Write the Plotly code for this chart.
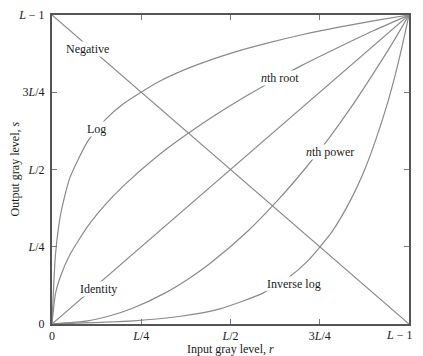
import plotly.graph_objects as go

# sample input levels (fraction of L-1)
r_vals = [0, 0.01, 0.025, 0.05, 0.1, 0.15, 0.2, 0.3, 0.4, 0.5, 0.6, 0.7, 0.8, 0.9, 1.0]
log_vals = [0, 0.228, 0.360, 0.473, 0.591, 0.662, 0.713, 0.785, 0.836, 0.876, 0.908, 0.936, 0.960, 0.981, 1.0]
root_vals = [0, 0.100, 0.158, 0.224, 0.316, 0.387, 0.447, 0.548, 0.632, 0.707, 0.775, 0.837, 0.894, 0.949, 1.0]
line_r = [0, 1.0]
identity_vals = [0, 1.0]
negative_vals = [1.0, 0]

tick_vals = [0, 0.25, 0.5, 0.75, 1.0]
x_tick_text = ["0", "<i>L</i>/4", "<i>L</i>/2", "3<i>L</i>/4", ""]
x_last_tick = "<i>L</i> − 1"
y_tick_text = ["0", "<i>L</i>/4", "<i>L</i>/2", "3<i>L</i>/4", "<i>L</i> − 1"]

curve_labels = ["Negative", "Log", "<i>n</i>th root", "Identity", "<i>n</i>th power", "Inverse log"]
label_x = [0.10, 0.126, 0.64, 0.13, 0.78, 0.677]
label_y = [0.89, 0.63, 0.796, 0.114, 0.557, 0.13]

x_title = "Input gray level, <i>r</i>"
y_title = "Output gray level, <i>s</i>"

FONT = "Liberation Serif"
LINE = "#8a8a8a"
TXT = dict(family=FONT, size=12, color="#1a1a1a")

fig = go.Figure()
series = [
    (line_r, negative_vals),
    (r_vals, log_vals),
    (r_vals, root_vals),
    (line_r, identity_vals),
    (root_vals, r_vals),
    (log_vals, r_vals),
]
for xs, ys in series:
    fig.add_trace(go.Scatter(x=xs, y=ys, mode="lines",
                             line=dict(color=LINE, width=1.2, shape="spline", smoothing=0.6),
                             showlegend=False, hoverinfo="skip", cliponaxis=False))

for t, x, y in zip(curve_labels, label_x, label_y):
    fig.add_annotation(x=x, y=y, text=t, showarrow=False, font=TXT,
                       bgcolor="white", borderpad=0)

# last x tick label, kept inside the page's right edge
fig.add_annotation(xref="x", yref="paper", x=tick_vals[-1], y=0, xanchor="right",
                   yanchor="top", xshift=5, yshift=-2, text=x_last_tick,
                   showarrow=False, font=TXT)

fig.add_annotation(xref="paper", yref="paper", x=0.5, y=0, yanchor="top",
                   yshift=-16, text=x_title, showarrow=False, font=TXT)
fig.add_annotation(xref="paper", yref="paper", x=0, y=0.5, xanchor="right",
                   xshift=-29, textangle=-90, text=y_title, showarrow=False, font=TXT)

axis_common = dict(range=[0, 1], showgrid=False, zeroline=False, automargin=False,
                   showline=True, mirror="ticks", linecolor="#555", linewidth=2,
                   ticks="inside", ticklen=5, tickcolor="#777", tickwidth=1,
                   tickvals=tick_vals, tickfont=TXT)

# the page body adds an ~8px offset, so the figure is shrunk by that amount
fig.update_layout(
    width=415, height=348,
    margin=dict(l=44, r=14, t=7, b=32),
    paper_bgcolor="white", plot_bgcolor="white",
    xaxis=dict(**axis_common, ticktext=x_tick_text),
    yaxis=dict(**axis_common, ticktext=y_tick_text, ticklabelstandoff=3),
)

fig.write_html("out.html")
